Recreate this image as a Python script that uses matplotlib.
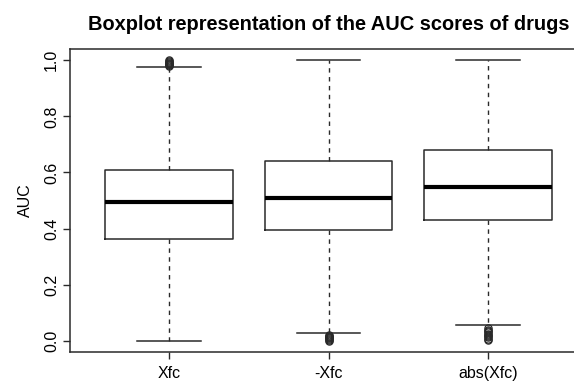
import matplotlib
matplotlib.use("Agg")
import matplotlib.pyplot as plt

plt.rcParams['font.family'] = ['Liberation Sans', 'DejaVu Sans']

# Box statistics for each scoring variant
labels = ["Xfc", "-Xfc", "abs(Xfc)"]
q1 = [0.364, 0.396, 0.430]
medians = [0.494, 0.509, 0.548]
q3 = [0.608, 0.640, 0.679]
whisker_low = [0.000, 0.027, 0.057]
whisker_high = [0.976, 1.000, 1.000]
outliers_xfc = [0.979, 0.982, 0.985, 0.988, 0.991, 0.994, 0.997, 1.000]
outliers_neg = [0.000, 0.003, 0.006, 0.009, 0.012, 0.015, 0.018, 0.021]
outliers_abs = [0.004, 0.008, 0.012, 0.016, 0.020, 0.025, 0.030, 0.035, 0.040, 0.045]
y_ticks = [0.0, 0.2, 0.4, 0.6, 0.8, 1.0]

fliers = [outliers_xfc, outliers_neg, outliers_abs]
stats = []
for i, lab in enumerate(labels):
    stats.append(dict(label=lab, q1=q1[i], med=medians[i], q3=q3[i],
                      whislo=whisker_low[i], whishi=whisker_high[i],
                      fliers=fliers[i]))

W, H = 574, 384
fig = plt.figure(figsize=(W / 100, H / 100), dpi=100)
ax = fig.add_axes([70 / W, (H - 352) / H, (587 - 70) / W, (352 - 49) / H])

edge = "#2a2a2a"
ax.bxp(stats, positions=[1, 2, 3], widths=0.8,
       boxprops=dict(color=edge, linewidth=1.1),
       medianprops=dict(color="black", linewidth=3.0, solid_capstyle="butt"),
       whiskerprops=dict(color=edge, linewidth=1.0, linestyle=(0, (3.2, 3.2))),
       capprops=dict(color=edge, linewidth=1.1),
       capwidths=0.4,
       flierprops=dict(marker="o", markersize=5.2, markerfacecolor="none",
                       markeredgecolor=edge, markeredgewidth=0.9))

ax.set_xlim(0.38, 3.62)
ax.set_ylim(-0.04, 1.04)
ax.set_yticks(y_ticks)
ax.set_yticklabels([f"{v:.1f}" for v in y_ticks], rotation=90, va="center")
ax.set_xticks([1, 2, 3])
ax.set_xticklabels(labels)
ax.tick_params(axis="both", direction="out", length=5, width=1.0,
               colors=edge, labelcolor="black", labelsize=11.5)
ax.tick_params(axis="x", pad=5)
ax.tick_params(axis="y", pad=3)
for sp in ax.spines.values():
    sp.set_color(edge)
    sp.set_linewidth(1.1)

ax.set_ylabel("AUC", fontsize=11.5, labelpad=8)
ax.set_title("Boxplot representation of the AUC scores of drugs",
             fontsize=14.4, fontweight="bold", pad=14)

fig.savefig("out.png", dpi=100)
